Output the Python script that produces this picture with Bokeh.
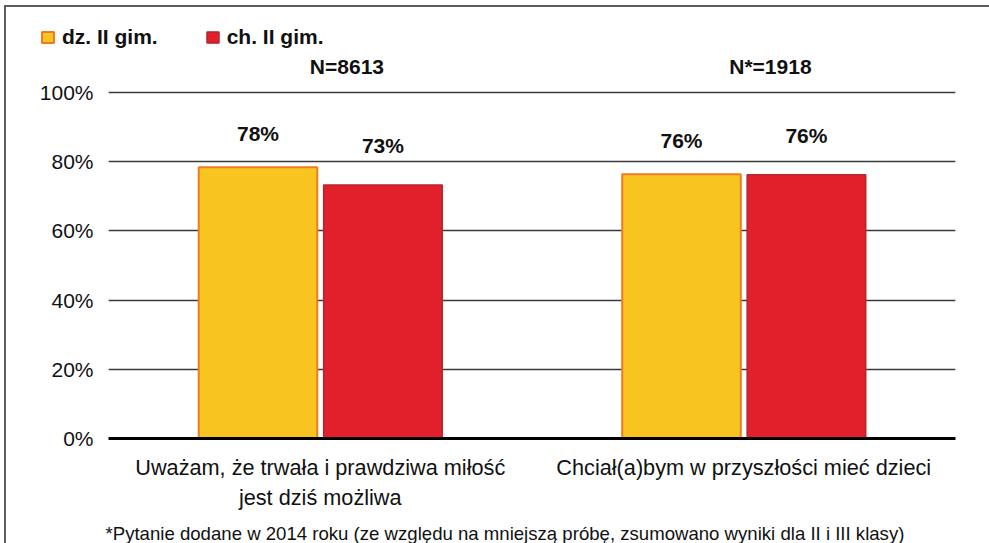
from bokeh.plotting import figure
from bokeh.layouts import column
from bokeh.models import (ColumnDataSource, FactorRange, FixedTicker, PrintfTickFormatter,
                          Legend, LegendItem, Title)
from bokeh.transform import dodge
from bokeh.core.properties import value
from bokeh.embed import file_html
from bokeh.resources import INLINE

categories = ["Uważam, że trwała i prawdziwa miłość\njest dziś możliwa",
              "Chciał(a)bym w przyszłości mieć dzieci"]
dz = [78.4, 76.4]
ch = [73.3, 76.2]
n_labels = ["N=8613", "N*=1918"]
series_names = ["dz. II gim.", "ch. II gim."]
footnote = "*Pytanie dodane w 2014 roku (ze względu na mniejszą próbę, zsumowano wyniki dla II i III klasy)"
y_ticks = [0, 20, 40, 60, 80, 100]

FONT = "Liberation Sans"
YELLOW, YELLOW_LINE = "#F8C520", "#EE7B22"
RED, RED_LINE = "#E1202B", "#B6242C"
TXT = "#111111"

src = ColumnDataSource(dict(
    cat=categories, dz=dz, ch=ch,
    dz_lab=[f"{round(v)}%" for v in dz],
    ch_lab=[f"{round(v)}%" for v in ch],
    n=n_labels, top=[100] * len(categories),
))

# ---- top strip holding the legend (its bar renderers are hidden; only legend swatches show) ----
top = figure(width=983, height=44, x_range=FactorRange(*categories), y_range=(0, 100),
             x_axis_type=None, y_axis_type=None, output_backend="svg", toolbar_location=None,
             min_border_left=0, min_border_right=0, min_border_top=0, min_border_bottom=0)
top.frame_align = False
top.outline_line_color = None
top.grid.visible = False
d1 = top.vbar(x="cat", top="dz", width=0.1, source=src, fill_color=YELLOW, line_color=YELLOW_LINE, line_width=2)
d2 = top.vbar(x="cat", top="ch", width=0.1, source=src, fill_color=RED, line_color=RED_LINE, line_width=1.5)
d1.visible = False
d2.visible = False
legend = Legend(items=[LegendItem(label=series_names[0], renderers=[d1]),
                       LegendItem(label=series_names[1], renderers=[d2])],
                orientation="horizontal", location=(34, 2))
legend.label_text_font = FONT
legend.label_text_font_style = "bold"
legend.label_text_font_size = "21px"
legend.label_text_color = TXT
legend.glyph_width = 15
legend.glyph_height = 14
legend.label_standoff = 7
legend.spacing = 47
legend.padding = 0
legend.margin = 0
legend.border_line_color = None
legend.background_fill_alpha = 0
legend.inactive_fill_alpha = 0
top.add_layout(legend, "center")

# ---- main chart ----
p = figure(x_range=FactorRange(*categories, range_padding=0), y_range=(0, 110.7),
           width=983, height=492, output_backend="svg", toolbar_location=None,
           min_border_left=102, min_border_right=34, min_border_top=4, min_border_bottom=105)
p.outline_line_color = None

r1 = p.vbar(x=dodge("cat", -0.147, range=p.x_range), top="dz", width=0.28, source=src,
            fill_color=YELLOW, line_color=YELLOW_LINE, line_width=2)
r2 = p.vbar(x=dodge("cat", 0.148, range=p.x_range), top="ch", width=0.28, source=src,
            fill_color=RED, line_color=RED_LINE, line_width=1.5)

p.text(x=dodge("cat", -0.147, range=p.x_range), y="dz", text="dz_lab", source=src,
       text_align="center", text_baseline="middle", y_offset=-34,
       text_font=value(FONT), text_font_style="bold", text_font_size="21px", text_color=TXT)
p.text(x=dodge("cat", 0.148, range=p.x_range), y="ch", text="ch_lab", source=src,
       text_align="center", text_baseline="middle", y_offset=-39,
       text_font=value(FONT), text_font_style="bold", text_font_size="21px", text_color=TXT)
p.text(x=dodge("cat", 0.063, range=p.x_range), y="top", text="n", source=src,
       text_align="center", text_baseline="middle", y_offset=-26,
       text_font=value(FONT), text_font_style="bold", text_font_size="21px", text_color=TXT)

# axes
p.yaxis.ticker = FixedTicker(ticks=y_ticks)
p.yaxis.formatter = PrintfTickFormatter(format="%d%%")
p.yaxis.axis_line_color = None
p.yaxis.major_tick_line_color = None
p.yaxis.minor_tick_line_color = None
p.yaxis.major_label_text_font = FONT
p.yaxis.major_label_text_font_size = "21px"
p.yaxis.major_label_text_color = TXT
p.yaxis.major_label_standoff = 9

p.xaxis.axis_line_color = "#000000"
p.xaxis.axis_line_width = 3
p.xaxis.major_tick_line_color = None
p.xaxis.minor_tick_line_color = None
p.xaxis.major_label_text_font = FONT
p.xaxis.major_label_text_font_size = "21.7px"
p.xaxis.major_label_text_color = TXT
p.xaxis.major_label_standoff = 10

p.xgrid.grid_line_color = None
p.ygrid.ticker = FixedTicker(ticks=y_ticks)
p.ygrid.grid_line_color = "#3a3a3a"
p.ygrid.grid_line_width = 1.4

p.add_layout(Title(text=footnote, align="left", text_font=FONT, text_font_size="18.6px",
                   text_font_style="normal", text_color=TXT, offset=-3, standoff=0,
                   padding=(0, 0, 8, 0)), "below")

layout = column(top, p, spacing=0,
                styles={"margin-left": "4px", "margin-top": "5px",
                        "border-left": "2px solid #5c5c5c", "border-top": "2px solid #5c5c5c"})

open("out.html", "w").write(file_html(layout, INLINE))
